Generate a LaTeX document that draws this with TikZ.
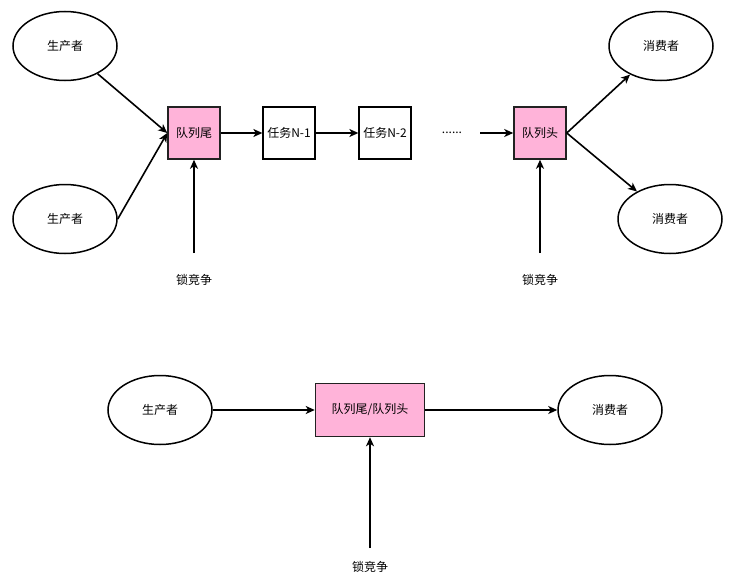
\documentclass[tikz,border=0pt]{standalone}
\usepackage{fontspec}
\newfontfamily\cjk{Noto Sans CJK SC}
\usetikzlibrary{shapes.geometric,arrows.meta}
\definecolor{qpink}{HTML}{FFB3D9}
\definecolor{qedge}{HTML}{222222}
\tikzset{
  every node/.style={font=\cjk\fontsize{12}{14}\selectfont},
  actor/.style={ellipse,draw=black,line width=1.5pt,minimum width=104pt,minimum height=69pt,inner sep=0pt},
  pinkbox/.style={rectangle,draw=qedge,line width=1.5pt,fill=qpink,minimum width=52pt,minimum height=52pt,inner sep=0pt},
  taskbox/.style={rectangle,draw=black,line width=1.3pt,fill=white,minimum width=52pt,minimum height=52pt,inner sep=0pt},
  conn/.style={line width=1.6pt,-{Stealth[length=9pt,width=8pt,inset=2.5pt]}},
  plain/.style={inner sep=0pt}
}
\begin{document}
\begin{tikzpicture}[x=1pt,y=-1pt]
\useasboundingbox (0,0) rectangle (747,586);
% top row
\node[actor] (p1) at (65,46) {生产者};
\node[actor] (p2) at (65,219) {生产者};
\node[pinkbox] (tail) at (194,133) {队列尾};
\node[taskbox] (t1) at (289,133) {任务N-1};
\node[taskbox] (t2) at (385,133) {任务N-2};
\node[plain] (dots) at (452,133) {......};
\coordinate (dotsend) at (480,133);
\node[pinkbox] (head) at (540,133) {队列头};
\node[actor] (c1) at (661,46) {消费者};
\node[actor] (c2) at (670,219) {消费者};
\coordinate (l1s) at (194,253);
\node[plain] (l1) at (194,280) {锁竞争};
\coordinate (l2s) at (540,253);
\node[plain] (l2) at (540,280) {锁竞争};
\draw[conn] (p1) -- (tail.west);
\draw[conn] (p2.east) -- (tail.west);
\draw[conn] (tail) -- (t1);
\draw[conn] (t1) -- (t2);
\draw[conn] (dotsend) -- (head);
\draw[conn] (head.east) -- (c1);
\draw[conn] (head.east) -- (c2);
\draw[conn] (l1s) -- (tail);
\draw[conn] (l2s) -- (head);
% bottom row
\node[actor] (bp) at (160,410) {生产者};
\node[pinkbox,minimum width=109pt,minimum height=53pt] (bq) at (370,410) {队列尾/队列头};
\node[actor] (bc) at (610,410) {消费者};
\coordinate (bls) at (370,548);
\node[plain] (bl) at (370,567) {锁竞争};
\draw[conn] (bp) -- (bq);
\draw[conn] (bq) -- (bc);
\draw[conn] (bls) -- (bq);
\end{tikzpicture}
\end{document}
